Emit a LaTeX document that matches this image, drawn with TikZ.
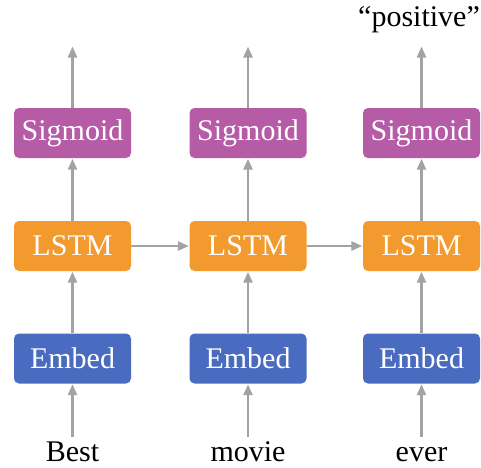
\documentclass[tikz,border=0pt]{standalone}
\usepackage{fontspec}
\setmainfont{Liberation Serif}
\usetikzlibrary{arrows.meta}
\definecolor{sigc}{HTML}{B65BA6}
\definecolor{lstmc}{HTML}{F39A2E}
\definecolor{embc}{HTML}{4A6CC0}
\definecolor{arrc}{HTML}{A3A3A3}
\tikzset{
  blk/.style={rounded corners=5pt, minimum width=117pt, minimum height=50pt, inner sep=0pt,
    text=white, font=\fontsize{30}{32}\selectfont},
  sigbox/.style={blk, fill=sigc},
  lstmbox/.style={blk, fill=lstmc},
  embbox/.style={blk, fill=embc},
  word/.style={anchor=base, inner sep=0pt, font=\fontsize{30}{32}\selectfont},
  conn/.style={draw=arrc, line width=2.5pt, -{Triangle[length=11pt,width=9pt]}, shorten >=0.5pt}
}
\begin{document}
\begin{tikzpicture}[x=1pt,y=-1pt]
\useasboundingbox (0,0) rectangle (481,467);
\foreach \i/\x/\w in {1/72.5/Best,2/248/movie,3/421.5/ever}{
  \node[sigbox] (s\i) at (\x,133) {Sigmoid};
  \node[lstmbox] (l\i) at (\x,246) {LSTM};
  \node[embbox] (e\i) at (\x,358.5) {Embed};
  \node[word] (w\i) at (\x,461) {\w};
  \coordinate (in\i) at (\x,437);
  \coordinate (out\i) at (\x,46);
  \draw[conn] (in\i) -- (e\i.south);
  \draw[conn] (e\i.north) -- (l\i.south);
  \draw[conn] (l\i.north) -- (s\i.south);
  \draw[conn] (s\i.north) -- (out\i);
}
\draw[conn] (l1.east) -- (l2.west);
\draw[conn] (l2.east) -- (l3.west);
\node[word] (pos) at (419,26) {“positive”};
\end{tikzpicture}
\end{document}
